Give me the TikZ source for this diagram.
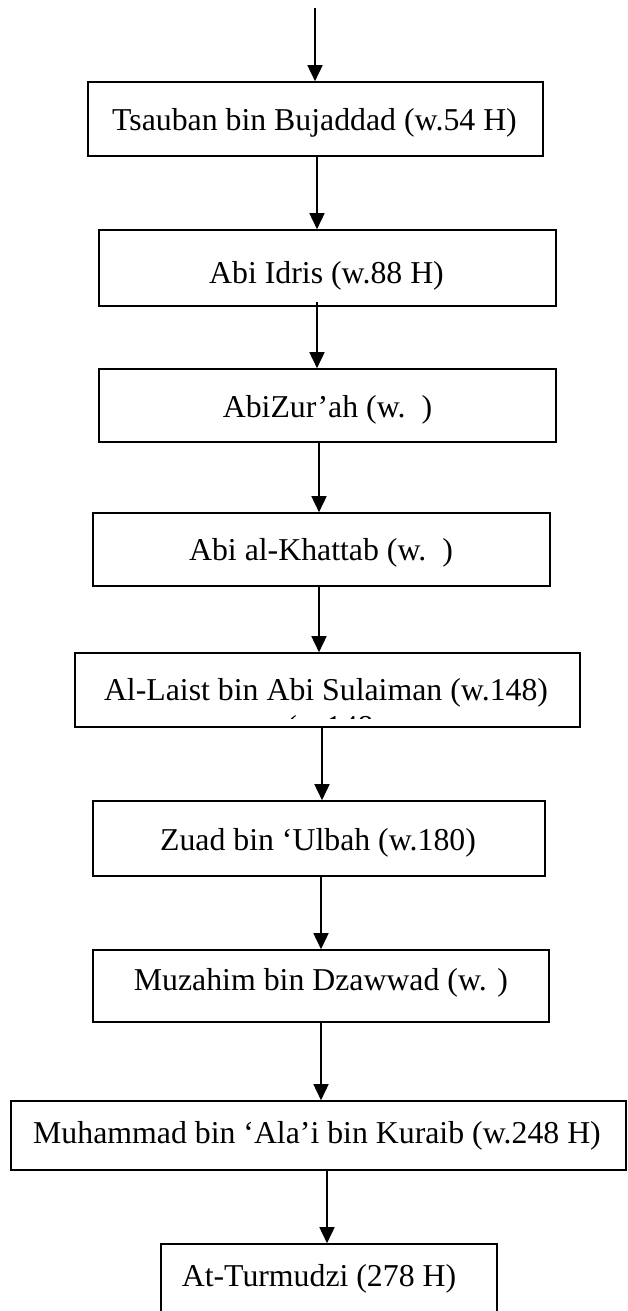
\documentclass[tikz,border=0pt]{standalone}
\usepackage{fontspec}
\setmainfont{Liberation Serif}
\usetikzlibrary{arrows.meta}
\begin{document}
\begin{tikzpicture}[x=1pt,y=-1pt,
  box/.style={draw, line width=1.6pt, rectangle, inner sep=0pt},
  txt/.style={inner sep=0pt, anchor=base, font=\fontsize{31.8}{36.6}\selectfont},
  arr/.style={line width=1.6pt, -{Triangle[length=16pt,width=15pt]}}]
\useasboundingbox (0,0) rectangle (628,1311);
\fill[white] (0,0) rectangle (628,1311);
% boxes
\node[box, minimum width=455pt, minimum height=74pt] (b1) at (315.5,119) {};
\node[box, minimum width=457pt, minimum height=76pt] (b2) at (327.5,268) {};
\node[box, minimum width=457pt, minimum height=73pt] (b3) at (327.5,405.5) {};
\node[box, minimum width=457pt, minimum height=73pt] (b4) at (321.5,549.5) {};
\node[box, minimum width=505pt, minimum height=74pt] (b5) at (327.5,690) {};
\node[box, minimum width=452pt, minimum height=75pt] (b6) at (319,838.5) {};
\node[box, minimum width=456pt, minimum height=72pt] (b7) at (321,986) {};
\node[box, minimum width=615pt, minimum height=69pt] (b8) at (318.5,1135.5) {};
\node[box, minimum width=336pt, minimum height=86pt] (b9) at (329,1287) {};
% texts
\node[txt] (t1) at (314.5,131) {Tsauban bin Bujaddad (w.54 H)};
\node[txt] (t2) at (326.5,283) {Abi Idris (w.88 H)};
\node[txt] (t3) at (327.5,417) {AbiZur’ah (w.\ \ )};
\node[txt] (t4) at (321,560) {Abi al-Khattab (w.\ \ )};
\node[txt] (t5) at (326,700) {Al-Laist bin Abi Sulaiman (w.148)};
\begin{scope}
  \clip (75,713) rectangle (580,718.5);
  \node[txt] (t5b) at (330,737) {(w.148};
\end{scope}
\node[txt] (t6) at (318,850) {Zuad bin ‘Ulbah (w.180)};
\node[txt] (t7) at (321,990) {Muzahim bin Dzawwad (w. )};
\node[txt] (t8) at (317,1143) {Muhammad bin ‘Ala’i bin Kuraib (w.248 H)};
\node[txt] (t9) at (319,1286) {At-Turmudzi (278 H)};
% arrow x positions
\coordinate (start) at (315,8);
\coordinate (x1) at (317,0);
\coordinate (x2) at (317,0);
\coordinate (x3) at (319,0);
\coordinate (x4) at (319,0);
\coordinate (x5) at (322,0);
\coordinate (x6) at (321,0);
\coordinate (x7) at (321,0);
\coordinate (x8) at (327,0);
% connectors
\draw[arr] (start) -- (start |- b1.north);
\draw[arr] (b1.south -| x1) -- (b2.north -| x1);
\draw[arr] ([yshift=5pt]b2.south -| x2) -- (b3.north -| x2);
\draw[arr] (b3.south -| x3) -- (b4.north -| x3);
\draw[arr] (b4.south -| x4) -- (b5.north -| x4);
\draw[arr] (b5.south -| x5) -- (b6.north -| x5);
\draw[arr] (b6.south -| x6) -- (b7.north -| x6);
\draw[arr] (b7.south -| x7) -- (b8.north -| x7);
\draw[arr] (b8.south -| x8) -- (b9.north -| x8);
\end{tikzpicture}
\end{document}
